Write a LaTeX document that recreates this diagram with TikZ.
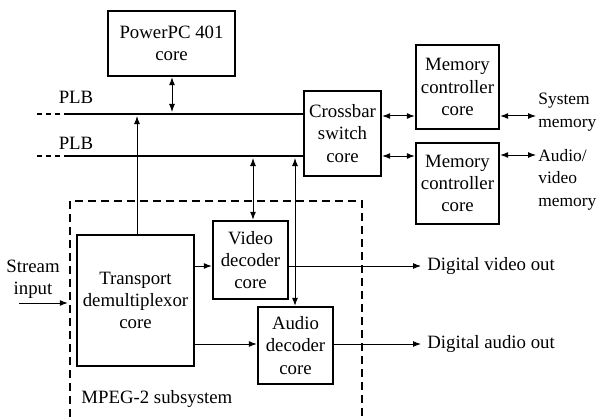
\documentclass[tikz,border=0pt]{standalone}
\usepackage{fontspec}
\setmainfont{Liberation Serif}
\usetikzlibrary{arrows.meta}
\begin{document}
\begin{tikzpicture}[x=0.5pt,y=-0.5pt,
  font=\fontsize{9.4}{11.2}\selectfont,
  box/.style={draw,line width=1.2pt,align=center,inner sep=0pt},
  bus/.style={line width=1.4pt},
  busend/.style={line width=1.4pt,dash pattern=on 2.5pt off 2pt},
  sig/.style={line width=0.5pt,-{Latex[length=4pt,width=3pt]}},
  bisig/.style={line width=0.5pt,{Latex[length=4pt,width=3pt]}-{Latex[length=4pt,width=3pt]}},
  txt/.style={inner sep=0pt,align=left},
  memtxt/.style={txt,font=\fontsize{8.7}{11.2}\selectfont}]
\useasboundingbox (0,0) rectangle (599,417);

% blocks
\node[box,minimum width=63.5pt,minimum height=32.5pt] (ppc) at (171.5,43.5) {PowerPC 401\\core};
\node[box,minimum width=38.5pt,minimum height=42.5pt] (xbar) at (342.5,133.5) {Crossbar\\switch\\core};
\node[box,minimum width=41.5pt,minimum height=42pt] (mem1) at (457.5,87) {Memory\\controller\\core};
\node[box,minimum width=41.5pt,minimum height=40.5pt] (mem2) at (457.5,183.5) {Memory\\controller\\core};
\node[box,minimum width=58.5pt,minimum height=65.5pt] (tdm) at (135.5,300.5) {Transport\\demultiplexor\\core};
\node[box,minimum width=37.5pt,minimum height=39pt] (vdec) at (250.5,260) {Video\\decoder\\core};
\node[box,minimum width=37.5pt,minimum height=38.5pt] (adec) at (295.5,345.5) {Audio\\decoder\\core};

% MPEG-2 subsystem outline
\draw[line width=0.6pt,dash pattern=on 4pt off 2.5pt] (70,417) -- (70,201) -- (362,201) -- (362,417);
\node[txt,anchor=west] (mpeg) at (81,399) {MPEG-2 subsystem};

% processor local buses
\coordinate (busUa) at (37,114);
\coordinate (busUb) at (68,114);
\coordinate (busLa) at (37,156);
\coordinate (busLb) at (68,156);
\draw[busend] (busUa) -- (busUb);
\draw[busend] (busLa) -- (busLb);
\draw[bus] (busUb) -- (busUb -| xbar.west);
\draw[bus] (busLb) -- (busLb -| xbar.west);
\node[txt] (plbU) at (76,97) {PLB};
\node[txt] (plbL) at (76,143) {PLB};

% bus attachments
\coordinate (tapP) at (172,114);
\coordinate (tapT) at (137,114);
\coordinate (tapV) at (253,156);
\coordinate (tapA) at (295,156);
\draw[bisig,shorten >=1pt] (ppc.south -| tapP) -- (tapP);
\draw[sig,shorten >=1pt] (tdm.north -| tapT) -- (tapT);
\draw[bisig,shorten <=1pt] (tapV) -- (vdec.north -| tapV);
\draw[bisig,shorten <=1pt] (tapA) -- (adec.north -| tapA);

% memory side
\coordinate (m1) at (400,116);
\coordinate (m2) at (400,156);
\draw[bisig] (xbar.east |- m1) -- (mem1.west |- m1);
\draw[bisig] (xbar.east |- m2) -- (mem2.west |- m2);
\coordinate (sysm) at (536,116);
\coordinate (avm) at (536,155);
\draw[bisig] (mem1.east |- sysm) -- (sysm);
\draw[bisig] (mem2.east |- avm) -- (avm);
\node[memtxt,anchor=west] (systxt) at (538,112) {System\\memory};
\node[memtxt,anchor=north west] (avtxt) at (538,149) {Audio/\\video\\memory};

% stream input
\node[txt,align=center] (stream) at (33,279) {Stream\\input};
\coordinate (sin) at (19,303);
\draw[sig,shorten >=4pt] (sin) -- (tdm.west |- sin);

% decoder feeds and outputs
\coordinate (tv) at (200,266);
\coordinate (ta) at (200,344);
\draw[sig] (tdm.east |- tv) -- (vdec.west |- tv);
\draw[sig] (tdm.east |- ta) -- (adec.west |- ta);
\coordinate (vo) at (421,266);
\coordinate (ao) at (421,344);
\draw[sig] (vdec.east |- vo) -- (vo);
\draw[sig] (adec.east |- ao) -- (ao);
\node[txt,anchor=west] (vtxt) at (427,266) {Digital video out};
\node[txt,anchor=west] (atxt) at (427,344) {Digital audio out};
\end{tikzpicture}
\end{document}
